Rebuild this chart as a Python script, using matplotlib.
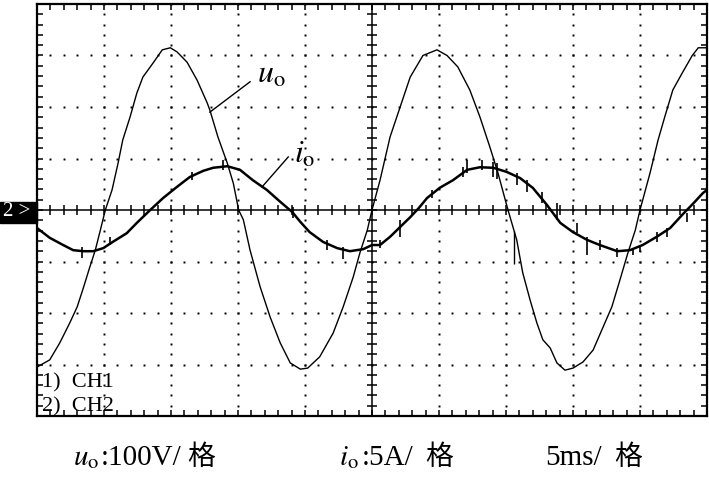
import matplotlib.pyplot as plt
from matplotlib.patches import Rectangle
import numpy as np

plt.rcParams['font.family'] = ['Liberation Serif', 'Noto Sans CJK SC']
plt.rcParams['mathtext.fontset'] = 'stix'

# 示波器波形读数: 时间 ms, uo 单位 V, io 单位 A
t_uo = [0, 0.95, 1.7, 2.45, 3.0, 3.45, 3.95, 4.35, 4.7, 5.1,
        5.6, 6.05, 6.4, 6.95, 7.45, 7.9, 8.65, 9.35, 9.95, 10.45,
        11.2, 11.95, 12.7, 12.9, 13.5, 14.2, 14.65, 15.05, 15.4, 15.9,
        16.65, 17.4, 18.15, 18.9, 19.65, 20.2, 21.1, 22.1, 22.85, 23.6,
        24.1, 24.65, 25.0, 25.6, 26.35, 27.1, 27.85, 28.8, 29.85, 30.6,
        31.4, 32.3, 33.05, 33.8, 34.4, 34.95, 35.15, 35.8, 36.25, 36.8,
        37.3, 37.75, 38.3, 38.8, 39.4, 40.0, 40.75, 41.5, 42.25, 42.9,
        43.5, 44.1, 44.65, 45.0, 45.75, 46.35, 46.85, 47.45, 48.15, 48.9,
        49.35, 50.0]
uo = [-305, -291, -258, -219, -188, -152, -110, -78, -42, 0,
      39, 91, 136, 181, 227, 258, 285, 311, 315, 307,
      287, 252, 208, 194, 142, 91, 52, 0, -19, -78,
      -149, -208, -258, -297, -309, -307, -285, -239, -188, -130,
      -83, -39, 0, 58, 142, 200, 258, 300, 311, 300,
      278, 233, 181, 122, 72, 19, 0, -58, -122, -175,
      -219, -252, -268, -297, -311, -307, -295, -272, -227, -188,
      -136, -83, -39, 0, 72, 136, 181, 233, 266, 300,
      315, 315]

t_io = [0, 0.95, 1.95, 2.7, 3.45, 4.2, 4.95, 5.65, 6.7, 7.45,
        8.45, 9.4, 10.45, 11.4, 12.4, 13.15, 14.2, 15.15, 16.1, 17.15,
        18.15, 19.05, 19.65, 20.35, 21.35, 22.4, 23.35, 24.35, 25.0, 25.6,
        26.35, 27.1, 27.85, 28.5, 29.1, 30.05, 31.05, 32.1, 33.05, 34.05,
        35.05, 36.05, 37.0, 38.05, 39.05, 40.0, 41.05, 42.0, 43.3, 44.25,
        45.2, 46.25, 47.25, 48.2, 48.95, 49.7, 50.0]
io = [-1.75, -2.7, -3.4, -3.9, -4.0, -4.0, -3.7, -3.1, -2.25, -1.25,
      0, 1.15, 2.25, 3.2, 3.8, 4.1, 4.25, 3.9, 2.9, 1.95,
      0.8, -0.2, -1.15, -2.15, -3.1, -3.7, -4.0, -3.8, -3.4, -3.4,
      -2.6, -1.65, -0.7, 0.2, 1.15, 2.15, 2.9, 3.9, 4.15, 4.1,
      3.7, 3.1, 2.15, 0.5, -1.25, -2.15, -2.9, -3.4, -4.0, -3.9,
      -3.4, -2.6, -1.75, -0.4, 0.6, 1.65, 1.95]

# 电流波形上的毛刺 (ms, 下端 A, 上端 A)
io_spike_t = [3.35, 5.45, 11.55, 13.9, 19.1, 21.65, 22.85, 25.6, 27.1, 29.5,
              31.8, 32.1, 33.2, 34.05, 34.35, 35.8, 36.55, 37.7, 38.8, 40.3,
              41.05, 42.0, 43.3, 44.5, 45.0, 46.25, 47.0, 48.5]
io_spike_lo = [-4.65, -3.4, 2.9, 3.9, -0.8, -3.9, -4.75, -3.7, -2.6, 1.15,
               3.2, 3.6, 3.9, 3.2, 3.0, 2.4, 1.75, 0.7, -0.95, -2.2,
               -4.35, -3.9, -4.55, -4.35, -4.1, -3.1, -2.6, -1.15]
io_spike_hi = [-3.6, -2.6, 3.7, 4.85, 0.3, -2.9, -3.6, -2.9, -0.95, 1.95,
               4.2, 4.85, 4.85, 4.65, 4.55, 3.6, 2.9, 1.75, 0.7, -1.25,
               -2.6, -2.9, -3.7, -3.7, -3.5, -2.15, -1.75, -0.3]
uo_spike_t = [35.6]
uo_spike_lo = [-105]
uo_spike_hi = [-40]

channels = ['1)  CH1', '2)  CH2']

W, H = 709, 478
fig = plt.figure(figsize=(W / 100, H / 100), dpi=100)
ax = fig.add_axes([37 / W, 62 / H, 670 / W, 412 / H])
ax.set_xlim(0, 50)       # 5 ms/格
ax.set_ylim(-400, 400)   # 100 V/格
ax2 = ax.twinx()
ax2.set_ylim(-20, 20)    # 5 A/格
ax2.set_axis_off()

# 边框与刻度
for s in ax.spines.values():
    s.set_linewidth(1.6)
ax.set_xticks(np.arange(0, 51, 5))
ax.set_xticks(np.arange(0, 51, 1), minor=True)
ax.set_yticks(np.arange(-400, 401, 100))
ax.set_yticks(np.arange(-400, 401, 20), minor=True)
ax.tick_params(which='both', direction='in', top=True, right=True,
               labelbottom=False, labelleft=False, length=4.5, width=1.1)

# 点状网格
gx = np.arange(0, 50.01, 1)
gy = np.arange(-400, 401, 20)
for yv in [-300, -200, -100, 100, 200, 300]:
    ax.plot(gx, np.full_like(gx, yv, dtype=float), 's', ms=1.4, color='k', mec='none')
for xv in [5, 10, 15, 20, 30, 35, 40, 45]:
    ax.plot(np.full_like(gy, xv, dtype=float), gy, 's', ms=1.4, color='k', mec='none')

# 中心十字线
ax.axhline(0, color='k', lw=1.1)
ax.axvline(25, color='k', lw=1.1)
ax.vlines(gx, -10, 10, color='k', lw=1.1)
ax.hlines(gy, 24.6, 25.4, color='k', lw=1.1)

# 波形
ax.plot(t_uo, uo, color='k', lw=1.0)
ax.vlines(uo_spike_t, uo_spike_lo, uo_spike_hi, color='k', lw=1.0)
ax2.plot(t_io, io, color='k', lw=1.8)
ax2.vlines(io_spike_t, io_spike_lo, io_spike_hi, color='k', lw=1.2)

# 标注
ax.plot([15.9, 12.9], [249, 190], color='k', lw=1.0)
ax.text(16.4, 247, r'$u_{\rm o}$', fontsize=23, ha='left', va='baseline')
ax.plot([18.75, 16.8], [103, 45], color='k', lw=1.0)
ax.text(19.2, 91, r'$i_{\rm o}$', fontsize=23, ha='left', va='baseline')

ax.text(0.4, -344, channels[0], fontsize=16, va='baseline')
ax.text(0.4, -391, channels[1], fontsize=16, va='baseline')

# 通道 2 标记
fig.patches.append(Rectangle((0, (H - 223) / H), 37 / W, 21 / H,
                             transform=fig.transFigure, color='k'))
fig.text(3 / W, (H - 212) / H, '2 >', color='w', fontsize=15, va='center')

# 底部说明
yb = (H - 465) / H
fig.text(73 / W, yb, r'$u_{\rm o}$', fontsize=21, va='baseline')
fig.text(101 / W, yb, ':100V/', fontsize=21, va='baseline')
fig.text(187 / W, yb, '格', fontsize=20, va='baseline')
fig.text(339 / W, yb, r'$i_{\rm o}$', fontsize=21, va='baseline')
fig.text(362 / W, yb, ':5A/', fontsize=21, va='baseline')
fig.text(425 / W, yb, '格', fontsize=20, va='baseline')
fig.text(545 / W, yb, '5ms/', fontsize=21, va='baseline')
fig.text(614 / W, yb, '格', fontsize=20, va='baseline')

plt.savefig('out.png', dpi=100)
